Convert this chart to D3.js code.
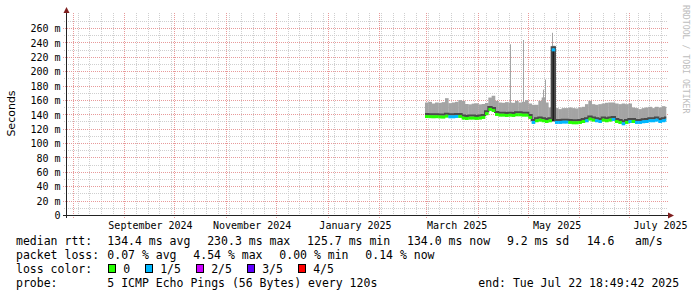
<!DOCTYPE html>
<html>
<head>
<meta charset="utf-8">
<script src="https://cdn.jsdelivr.net/npm/d3@7"></script>
<style>
body { margin: 0; background: #fff; }
svg { display: block; }
text { font-family: "DejaVu Sans Mono", monospace; fill: #000; }
</style>
</head>
<body>
<svg width="697" height="297"></svg>
<script>
// smokeping, last 360 days, one value every 2 days
var firstDay = "2025-02-28", stepDays = 2;

var pingMax = [
  157.1, 158.0, 155.7, 157.1, 156.7, 157.6, 163.1, 156.2, 157.1, 158.0, 160.4, 159.4,
  155.0, 154.5, 155.5, 156.0, 154.5, 155.0, 156.5, 164.0, 166.5, 159.4, 157.1, 156.7,
  157.6, 157.1, 156.7, 159.4, 157.1, 158.0, 160.4, 155.7, 153.9, 153.9, 159.4, 164.1,
  157.1, 150.2, 236.0, 149.3, 147.9, 149.3, 149.3, 150.2, 149.3, 148.8, 150.2, 151.1,
  154.8, 159.4, 154.8, 153.9, 154.8, 155.7, 156.7, 157.1, 157.1, 155.7, 154.8, 155.7,
  154.8, 155.7, 150.2, 149.3, 147.9, 149.3, 150.2, 151.1, 149.3, 151.1, 150.2, 152.0, 151.1
];
var median = [
  137.6, 137.4, 137.2, 137.4, 137.0, 136.8, 138.1, 137.2, 137.2, 137.7, 137.7, 135.4,
  134.9, 135.4, 135.4, 135.0, 135.4, 136.3, 141.5, 147.5, 146.0, 140.5, 139.5, 139.5,
  139.1, 139.5, 139.1, 140.0, 140.0, 139.5, 139.5, 136.3, 129.4, 131.7, 132.6, 131.7,
  130.7, 131.7, 230.3, 129.4, 129.4, 129.8, 129.8, 129.4, 128.9, 128.9, 129.4, 130.7,
  131.7, 134.0, 132.6, 131.7, 130.7, 132.6, 131.7, 132.6, 133.5, 130.7, 129.4, 127.5,
  129.4, 130.7, 130.7, 129.4, 129.4, 130.3, 130.7, 131.7, 131.7, 132.6, 130.7, 131.7, 132.6
];
var pingMin = [
  137.6, 137.4, 137.2, 137.4, 137.0, 136.8, 138.1, 137.2, 137.2, 137.7, 137.7, 135.4,
  134.9, 135.4, 135.4, 135.0, 135.4, 136.3, 141.5, 147.5, 146.0, 140.5, 139.5, 139.5,
  139.1, 139.5, 139.1, 140.0, 140.0, 139.5, 139.5, 136.3, 129.4, 131.7, 132.6, 131.7,
  130.7, 131.7, 131.0, 129.4, 129.4, 129.8, 129.8, 129.4, 128.9, 128.9, 129.4, 130.7,
  131.7, 134.0, 132.6, 131.7, 130.7, 132.6, 131.7, 132.6, 133.5, 130.7, 129.4, 127.5,
  129.4, 130.7, 130.7, 129.4, 129.4, 130.3, 130.7, 131.7, 131.7, 132.6, 130.7, 131.7, 132.6
];
// lost pings out of 5
var loss = [
  0, 0, 0, 0, 0, 0, 0, 1, 1, 1, 0, 0,
  0, 0, 0, 0, 0, 0, 0, 0, 0, 0, 0, 0,
  0, 0, 0, 0, 0, 0, 0, 0, 1, 0, 0, 0,
  0, 0, 1, 1, 1, 1, 1, 0, 0, 0, 0, 0,
  1, 0, 0, 1, 1, 0, 0, 0, 1, 0, 0, 1,
  0, 1, 0, 1, 1, 1, 1, 1, 1, 1, 1, 1, 1
];
var spikeTimes = ["2025-04-20T12:00", "2025-04-28T00:00", "2025-05-10T08:00", "2025-05-11T04:00", "2025-05-15T10:00"];
var spikeValues = [238, 244, 175, 189, 254];

var yTicks = [0, 20, 40, 60, 80, 100, 120, 140, 160, 180, 200, 220, 240, 260];
var xLabels = ["September 2024", "November 2024", "January 2025", "March 2025", "May 2025", "July 2025"];
var xLabelDays = ["2024-09-16", "2024-11-16", "2025-01-17", "2025-03-19", "2025-05-18", "2025-07-19"];

var lossLabels = ["0", "1/5", "2/5", "3/5", "4/5"];
var lossColors = ["#26ff00", "#00b8ff", "#cc00ff", "#5e00ff", "#ff0000"];
var medianStats = ["134.4 ms avg", "230.3 ms max", "125.7 ms min", "134.0 ms now", "9.2 ms sd"];
var lossStats = ["0.07 % avg", "4.54 % max", "0.00 % min", "0.14 % now"];

var svg = d3.select("svg");
var parseDay = d3.utcParse("%Y-%m-%d");
var parseTime = d3.utcParse("%Y-%m-%dT%H:%M");
var end = new Date(Date.UTC(2025, 6, 22, 18, 49, 42));
var start = new Date(+end - 360 * 864e5);

var x = d3.scaleUtc().domain([start, end]).range([66.3, 666.3]);
var y = d3.scaleLinear().domain([0, 280]).range([215.5, 14.1]);
var crisp = function(v) { return Math.floor(v) + 0.5; };

// grid
var g = svg.append("g").attr("fill", "none").attr("stroke-dasharray", "1,1");
var minorY = d3.range(10, 280, 20);
g.selectAll(".hmin").data(minorY).enter().append("line")
  .attr("x1", 64).attr("x2", 668)
  .attr("y1", function(d) { return crisp(y(d)); }).attr("y2", function(d) { return crisp(y(d)); })
  .attr("stroke", "#cfcfcf");
g.selectAll(".vmin").data(d3.utcSunday.range(start, end)).enter().append("line")
  .attr("x1", function(d) { return crisp(x(d)); }).attr("x2", function(d) { return crisp(x(d)); })
  .attr("y1", 13).attr("y2", 217)
  .attr("stroke", "#cfcfcf");
g.selectAll(".hmaj").data(yTicks.slice(1)).enter().append("line")
  .attr("x1", 63).attr("x2", 668)
  .attr("y1", function(d) { return crisp(y(d)); }).attr("y2", function(d) { return crisp(y(d)); })
  .attr("stroke", "#e89a9a");
g.selectAll(".vmaj").data(d3.utcMonth.range(start, end)).enter().append("line")
  .attr("x1", function(d) { return crisp(x(d)); }).attr("x2", function(d) { return crisp(x(d)); })
  .attr("y1", 13).attr("y2", 218)
  .attr("stroke", "#e89a9a");

// data
var t0 = parseDay(firstDay);
var pts = median.map(function(m, i) {
  var t = d3.utcDay.offset(t0, i * stepDays);
  return { t: t, t2: d3.utcDay.offset(t, stepDays), med: m, hi: pingMax[i], lo: pingMin[i], loss: loss[i] };
});

svg.append("clipPath").attr("id", "plot")
  .append("rect").attr("x", x.range()[0]).attr("y", 0).attr("width", x.range()[1] - x.range()[0]).attr("height", 216);
var data = svg.append("g").attr("clip-path", "url(#plot)");

data.selectAll(".smoke").data(pts).enter().append("rect")
  .attr("x", function(d) { return x(d.t); })
  .attr("width", function(d) { return x(d.t2) - x(d.t) + 0.3; })
  .attr("y", function(d) { return y(d.hi); })
  .attr("height", function(d) { return y(d.lo) - y(d.hi); })
  .attr("fill", "#a4a4a4");

data.selectAll(".spike").data(spikeTimes).enter().append("line")
  .attr("x1", function(d) { return crisp(x(parseTime(d))); })
  .attr("x2", function(d) { return crisp(x(parseTime(d))); })
  .attr("y1", y(145))
  .attr("y2", function(d, i) { return y(spikeValues[i]); })
  .attr("stroke", "#a4a4a4");

data.selectAll(".dark").data(pts.filter(function(d) { return d.lo < d.med; })).enter().append("rect")
  .attr("x", function(d) { return x(d.t); })
  .attr("width", function(d) { return x(d.t2) - x(d.t); })
  .attr("y", function(d) { return y(d.med); })
  .attr("height", function(d) { return y(d.lo) - y(d.med); })
  .attr("fill", "#1e1e1e");

var steps = [];
pts.forEach(function(d) { steps.push([d.t, d.med]); steps.push([d.t2, d.med]); });
data.append("path")
  .attr("d", d3.line().x(function(d) { return x(d[0]); }).y(function(d) { return y(d[1]) - 2.5; })(steps))
  .attr("fill", "none").attr("stroke", "#4a4a4a").attr("stroke-width", 2);

data.selectAll(".med").data(pts).enter().append("rect")
  .attr("x", function(d) { return x(d.t); })
  .attr("width", function(d) { return x(d.t2) - x(d.t) + 0.3; })
  .attr("y", function(d) { return y(d.med) - 1.5; })
  .attr("height", 3)
  .attr("fill", function(d) { return lossColors[d.loss]; });

// axes
svg.append("line").attr("x1", 63).attr("x2", 669).attr("y1", 215.5).attr("y2", 215.5).attr("stroke", "#222");
svg.append("line").attr("x1", 66.5).attr("x2", 66.5).attr("y1", 218).attr("y2", 11).attr("stroke", "#222");
svg.append("path").attr("d", "M668,212.5L674,215.5L668,218.5Z").attr("fill", "#7f1f1f");
svg.append("path").attr("d", "M63.5,13L66.5,7L69.5,13Z").attr("fill", "#7f1f1f");

var yAxis = svg.append("g").attr("transform", "translate(66.5,0)")
  .call(d3.axisLeft(y).tickValues(yTicks).tickSize(0).tickPadding(6)
    .tickFormat(function(d) { return d === 0 ? "0" : d + " m"; }));
yAxis.select(".domain").remove();
yAxis.selectAll("text").style("font-family", "DejaVu Sans Mono").style("font-size", "10px").attr("fill", "#000");

var xAxis = svg.append("g").attr("transform", "translate(0,215.5)")
  .call(d3.axisBottom(x).tickValues(xLabelDays.map(parseDay)).tickSize(0).tickPadding(6)
    .tickFormat(function(d, i) { return xLabels[i]; }));
xAxis.select(".domain").remove();
xAxis.selectAll("text").style("font-family", "DejaVu Sans Mono").style("font-size", "10px").attr("fill", "#000");

svg.append("text").attr("transform", "translate(15,113.5) rotate(-90)")
  .attr("text-anchor", "middle").style("font-family", "DejaVu Sans").style("font-size", "11px")
  .text("Seconds");

svg.append("text").attr("transform", "translate(682.5,5) rotate(90)")
  .style("font-size", "8.2px").style("fill", "#bdbdbd")
  .text("RRDTOOL / TOBI OETIKER");

// legend
var leg = svg.append("g").style("font-size", "11.5px").style("white-space", "pre");
var rows = [244.5, 258.5, 272.5, 286.5];
leg.append("text").attr("x", 16).attr("y", rows[0]).text("median rtt:");
leg.selectAll(".ms").data(medianStats).enter().append("text")
  .attr("x", function(d, i) { return 107.3 + i * 99.9; }).attr("y", rows[0]).text(function(d) { return d; });
leg.append("text").attr("x", 586.7).attr("y", rows[0]).text("14.6");
leg.append("text").attr("x", 635).attr("y", rows[0]).text("am/s");

leg.append("text").attr("x", 16).attr("y", rows[1]).text("packet loss:");
leg.selectAll(".ls").data(lossStats).enter().append("text")
  .attr("x", function(d, i) { return 107.3 + i * 86; }).attr("y", rows[1]).text(function(d) { return d; });

leg.append("text").attr("x", 16).attr("y", rows[2]).text("loss color:");
var boxX = [108.5, 145.5, 196.5, 247.5, 298.5];
leg.selectAll(".box").data(lossColors).enter().append("rect")
  .attr("x", function(d, i) { return boxX[i]; }).attr("y", 264.5).attr("width", 7).attr("height", 8)
  .attr("fill", function(d) { return d; }).attr("stroke", "#000");
leg.selectAll(".ll").data(lossLabels).enter().append("text")
  .attr("x", function(d, i) { return boxX[i] + 14.7; }).attr("y", rows[2]).text(function(d) { return d; });

leg.append("text").attr("x", 16).attr("y", rows[3]).text("probe:");
leg.append("text").attr("x", 107.3).attr("y", rows[3]).text("5 ICMP Echo Pings (56 Bytes) every 120s");
leg.append("text").attr("x", 478.3).attr("y", rows[3]).text("end: Tue Jul 22 18:49:42 2025");
</script>
</body>
</html>
